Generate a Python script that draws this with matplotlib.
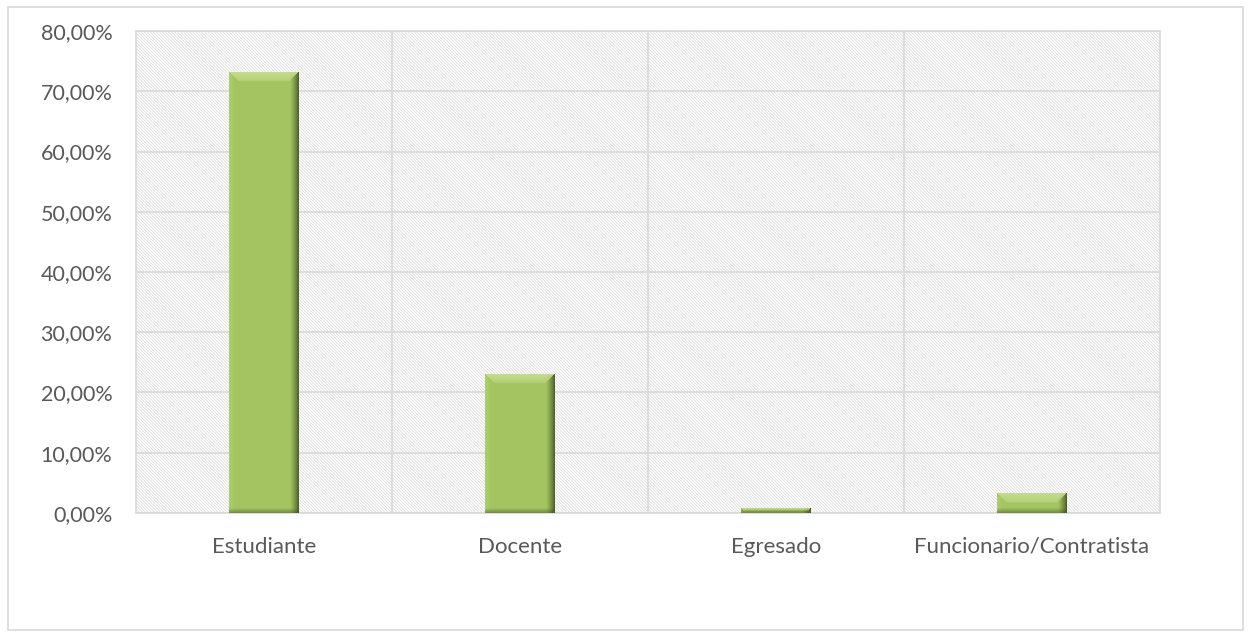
import numpy as np
import matplotlib
matplotlib.use("Agg")
import matplotlib.pyplot as plt
from matplotlib.patches import Rectangle
from matplotlib.ticker import FuncFormatter

categories = ["Estudiante", "Docente", "Egresado", "Funcionario/Contratista"]
values = [73.1, 23.0, 0.7, 3.2]

plt.rcParams['font.family'] = ['Lato', 'DejaVu Sans']
plt.rcParams['hatch.color'] = '#dedede'
plt.rcParams['hatch.linewidth'] = 0.6

fig = plt.figure(figsize=(12.5, 6.37), dpi=100)
ax = fig.add_axes([0.1088, 0.1947, 0.8192, 0.7566])

# hatched plot background
ax.add_patch(Rectangle((0, 0), 1, 1, transform=ax.transAxes, facecolor='white',
                       hatch='\\' * 11, edgecolor='#dedede', linewidth=0, zorder=0))

x = np.arange(len(categories))
w = 0.27
ax.set_xlim(-0.5, len(categories) - 0.5)
ax.set_ylim(0, 80)
bars = ax.bar(x, values, width=w, color='#a3c462', linewidth=0, zorder=3)

# bevel shading, built in pixel units for each bar
px_x = ax.get_position().width * fig.get_figwidth() * fig.dpi / 4.0
px_y = ax.get_position().height * fig.get_figheight() * fig.dpi / 80.0
base = np.array([0.64, 0.77, 0.38])
light = np.array([0.78, 0.87, 0.56])
dark = np.array([0.22, 0.30, 0.10])
for b in bars:
    bx, bw, bh = b.get_x(), b.get_width(), b.get_height()
    W = max(int(round(bw * px_x)), 2)
    H = max(int(round(bh * px_y)), 2)
    img = np.tile(base, (H, W, 1))
    cols = np.arange(W) + 0.5
    rows = np.arange(H) + 0.5
    bev = min(9.0, H / 2.0)
    # left light strip
    t = np.clip(1 - cols / 6.0, 0, 1)
    img = img * (1 - 0.35 * t[None, :, None]) + light * 0.35 * t[None, :, None]
    # right dark strip
    t = np.clip(1 - (W - cols) / 9.0, 0, 1) ** 1.3
    img = img * (1 - 0.85 * t[None, :, None]) + dark * 0.85 * t[None, :, None]
    # bottom dark strip
    t = np.clip(1 - (H - rows) / 5.0, 0, 1)
    img = img * (1 - 0.5 * t[:, None, None]) + dark * 0.5 * t[:, None, None]
    # top bevel (trapezoid)
    R, C = np.meshgrid(rows, cols, indexing='ij')
    top = (R < bev) & (C > R) & (C < W - R)
    tt = (1 - R / bev) * 0.5 + 0.45
    img[top] = img[top] * (1 - tt[top, None]) + light * tt[top, None]
    img = np.clip(img, 0, 1)
    ax.imshow(img, extent=[bx, bx + bw, 0, bh], aspect='auto', zorder=4,
              interpolation='bilinear', origin='upper')

ax.set_xlim(-0.5, len(categories) - 0.5)
ax.set_ylim(0, 80)
ax.set_yticks(np.arange(0, 81, 10))
ax.yaxis.set_major_formatter(FuncFormatter(lambda v, p: f"{v:.2f}%".replace('.', ',')))
ax.set_xticks(x)
ax.set_xticklabels(categories)
ax.set_xticks(np.arange(0.5, len(categories) - 0.5, 1), minor=True)

ax.grid(axis='y', color='#d9d9d9', linewidth=1.2, zorder=1)
ax.grid(axis='x', which='minor', color='#d9d9d9', linewidth=1.2, zorder=1)
ax.tick_params(axis='both', which='both', length=0, labelcolor='#595959')
ax.tick_params(axis='x', pad=17, labelsize=16)
ax.tick_params(axis='y', pad=17, labelsize=15.5)
for s in ax.spines.values():
    s.set_color('#d9d9d9')
    s.set_linewidth(1.2)

# outer chart border
fig.patches.append(Rectangle((0.006, 0.011), 0.988, 0.978, transform=fig.transFigure,
                             fill=False, edgecolor='#d9d9d9', linewidth=1.2))

fig.savefig("out.png", dpi=100)
